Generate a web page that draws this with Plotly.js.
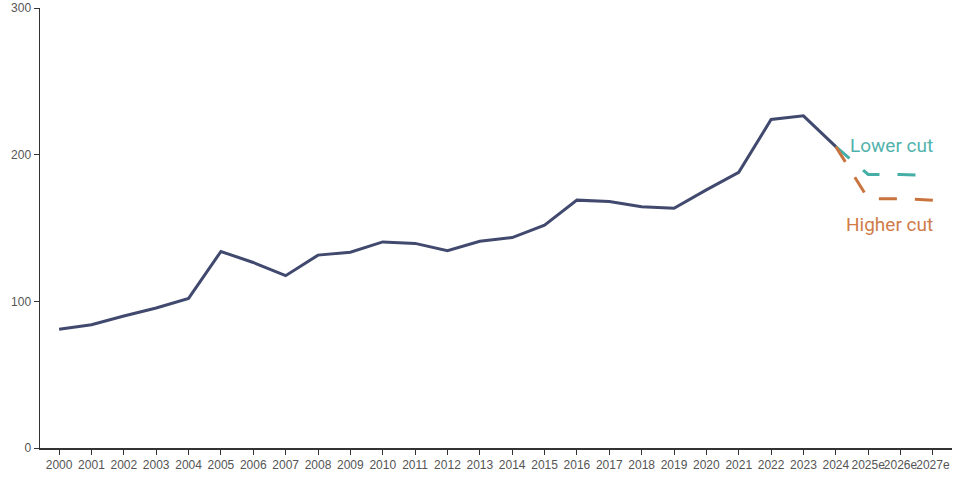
<!DOCTYPE html>
<html>
<head>
<meta charset="utf-8">
<script src="https://cdn.plot.ly/plotly-3.0.1.min.js"></script>
<style>html,body{margin:0;padding:0;background:#fff;}#chart{width:960px;height:480px;}</style>
</head>
<body>
<div id="chart"></div>
<script>
const years = ["2000","2001","2002","2003","2004","2005","2006","2007","2008","2009","2010","2011","2012","2013","2014","2015","2016","2017","2018","2019","2020","2021","2022","2023","2024"];
const actualValues = [81,84,90,95.5,102,134,126.5,117.5,131.5,133.5,140.5,139.5,134.5,141,143.5,152,169,168,164.5,163.5,176,188,224,226.5,205.5];
const forecastYears = ["2024","2025e","2026e","2027e"];
const lowerCutValues = [205.5,186.5,186.5,185.8];
const higherCutValues = [205.5,170,170,169];
const allCategories = years.concat(["2025e","2026e","2027e"]);

const navy = "#414a6e", teal = "#45aea7", orange = "#c9733f";

const traces = [
  {x: forecastYears, y: lowerCutValues, type: "scatter", mode: "lines", line: {color: teal, width: 3, dash: "18px,18px"}, hoverinfo: "skip"},
  {x: forecastYears, y: higherCutValues, type: "scatter", mode: "lines", line: {color: orange, width: 3, dash: "18px,18px"}, hoverinfo: "skip"},
  {x: years, y: actualValues, type: "scatter", mode: "lines", line: {color: navy, width: 3}}
];

const layout = {
  width: 960, height: 480,
  margin: {l: 40, r: 8, t: 8, b: 32},
  paper_bgcolor: "#fff", plot_bgcolor: "#fff",
  showlegend: false,
  font: {family: "Liberation Sans, Arial, sans-serif", size: 12, color: "#555"},
  xaxis: {
    type: "category", categoryorder: "array", categoryarray: allCategories,
    range: [-0.59, 27.59], showgrid: false, zeroline: false,
    showline: true, linecolor: "#333", linewidth: 1.5,
    ticks: "outside", ticklen: 5, tickcolor: "#333", tickwidth: 1,
    tickfont: {size: 12, color: "#555"}, tickangle: 0
  },
  yaxis: {
    range: [0, 300], tickvals: [0,100,200,300], showgrid: false, zeroline: false,
    showline: true, linecolor: "#333", linewidth: 1.5,
    ticks: "outside", ticklen: 5, tickcolor: "#333", tickwidth: 1,
    tickfont: {size: 12, color: "#555"}
  },
  annotations: [
    {x: "2027e", y: 206, xref: "x", yref: "y", text: "Lower cut", showarrow: false, xanchor: "right", yanchor: "middle", xshift: 2, font: {family: "Roboto, sans-serif", size: 19, color: "#52b3ad"}},
    {x: "2027e", y: 152.5, xref: "x", yref: "y", text: "Higher cut", showarrow: false, xanchor: "right", yanchor: "middle", xshift: 2, font: {family: "Roboto, sans-serif", size: 19, color: "#cf7c48"}}
  ]
};

Plotly.newPlot("chart", traces, layout, {displayModeBar: false, staticPlot: true});
</script>
</body>
</html>
